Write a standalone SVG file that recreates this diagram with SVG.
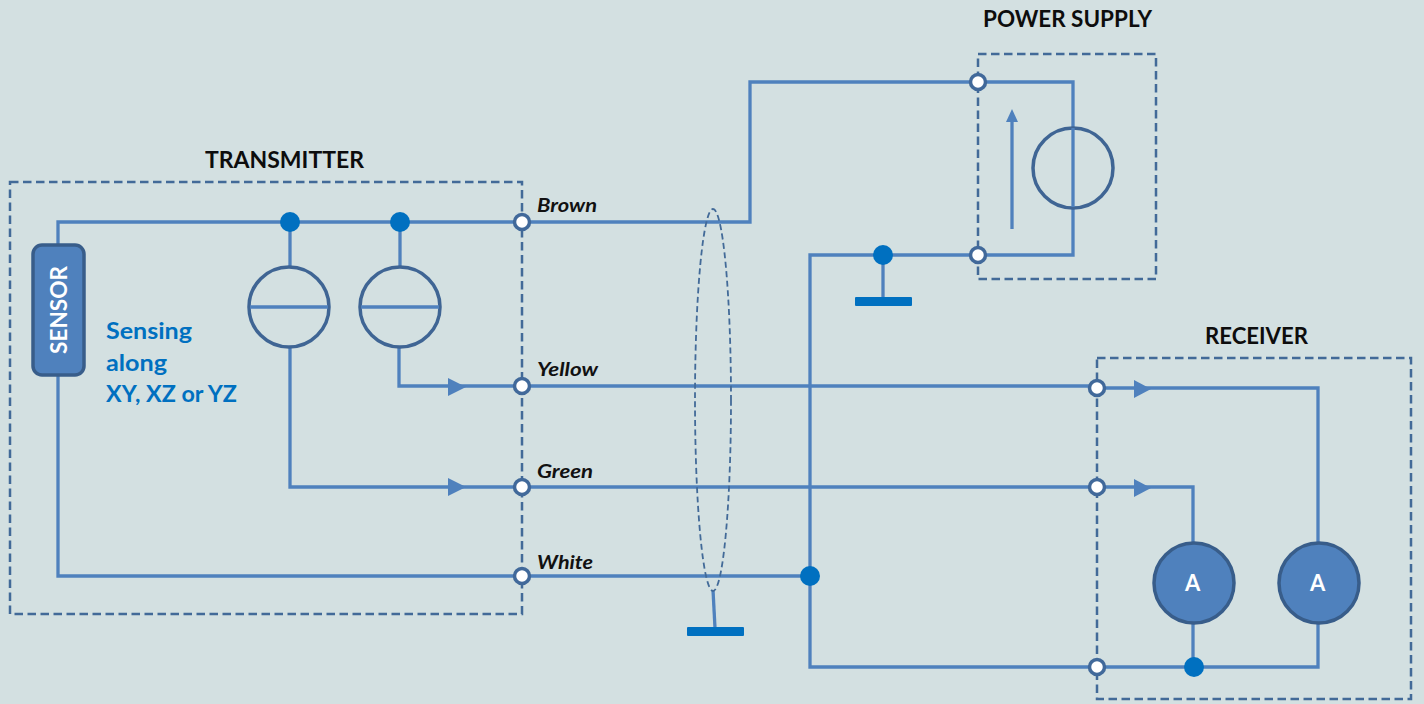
<svg xmlns="http://www.w3.org/2000/svg" width="1424" height="704" viewBox="0 0 1424 704">
<defs>
<style>
.wire{fill:none;stroke:#4f81bd;stroke-width:3.3;stroke-linejoin:miter}
.box{fill:none;stroke:#426a98;stroke-width:2.5;stroke-dasharray:8.5 4.5}
.sym{fill:none;stroke:#3f6594;stroke-width:3.5}
.amp{fill:#4f81bd;stroke:#385d8a;stroke-width:3.5}
.term{fill:#fff;stroke:#41699a;stroke-width:3.5}
.dot{fill:#0070c0}
.arr{fill:#4f81bd}
.gnd{fill:#0070c0}
.title{font:700 22px Lato,"Liberation Sans",sans-serif;fill:#0d0d0d}
.wl{font:italic 700 19px Lato,"Liberation Sans",sans-serif;fill:#111}
.blue{font:700 22px Lato,"Liberation Sans",sans-serif;fill:#0070c0}
.white{font:700 22px Lato,"Liberation Sans",sans-serif;fill:#fff}
</style>
</defs>
<rect width="1424" height="704" fill="#d3e0e1"/>
<g id="connectors">
<path class="wire" d="M58 246V222H522"/>
<path class="wire" d="M58 375V576H810"/>
<path class="wire" d="M290 222V267"/>
<path class="wire" d="M400 222V267"/>
<path class="wire" d="M290 347V487H1097"/>
<path class="wire" d="M399 347V386H1097"/>
<path class="wire" d="M522 222H750V82H978"/>
<path class="wire" d="M978 82H1073V127"/>
<path class="wire" d="M1073 207V255H978"/>
<path class="wire" d="M978 255H810V667H1097"/>
<path class="wire" d="M1097 388H1318V543"/>
<path class="wire" d="M1097 487H1193V543"/>
<path class="wire" d="M1193 623V667"/>
<path class="wire" d="M1318 623V667H1097"/>
<path class="wire" d="M883 255V298"/>
<path class="wire" d="M713 590L715 628"/>
<path class="wire" d="M1012 229V118"/>
<path class="arr" d="M1012 109L1018 122H1006Z"/>
<path class="arr" d="M448 378L466 387L448 396Z"/>
<path class="arr" d="M448 478L466 487L448 496Z"/>
<path class="arr" d="M1134 380L1151 389L1134 398Z"/>
<path class="arr" d="M1134 479L1151 488L1134 497Z"/>
<ellipse cx="713" cy="400" rx="18" ry="191" fill="none" stroke="#426a98" stroke-width="1.8" stroke-dasharray="6 3.5"/>
</g>
<g id="transmitter"><rect class="box" x="10" y="182" width="512" height="432"/>
<text class="title" x="205" y="168" textLength="159" lengthAdjust="spacingAndGlyphs">TRANSMITTER</text></g>
<g id="power-supply"><rect class="box" x="978" y="54" width="178" height="225"/>
<text class="title" x="983" y="27" textLength="169" lengthAdjust="spacingAndGlyphs">POWER SUPPLY</text></g>
<g id="receiver"><rect class="box" x="1097" y="358" width="314" height="341"/>
<text class="title" x="1205" y="344" textLength="103" lengthAdjust="spacingAndGlyphs">RECEIVER</text></g>
<g id="sensor"><rect x="33" y="245" width="51" height="130" rx="9" class="amp"/>
<text class="white" transform="translate(67 354) rotate(-90)" textLength="88" lengthAdjust="spacingAndGlyphs">SENSOR</text></g>
<g id="sensing-note">
<text class="blue" x="106" y="339" textLength="86" lengthAdjust="spacingAndGlyphs">Sensing</text>
<text class="blue" x="106" y="371" textLength="61" lengthAdjust="spacingAndGlyphs">along</text>
<text class="blue" x="106" y="402" textLength="131" lengthAdjust="spacingAndGlyphs">XY, XZ or YZ</text></g>
<g id="source-1"><circle class="sym" cx="289" cy="307" r="40"/><path class="wire" d="M250 307H328"/></g>
<g id="source-2"><circle class="sym" cx="400" cy="307" r="40"/><path class="wire" d="M361 307H439"/></g>
<g id="source-3"><circle class="sym" cx="1073" cy="168" r="40"/><path class="wire" d="M1073 128V207"/></g>
<g id="meter-1"><circle class="amp" cx="1194" cy="583" r="40"/><text class="white" x="1185" y="591">A</text></g>
<g id="meter-2"><circle class="amp" cx="1319" cy="583" r="40"/><text class="white" x="1310" y="591">A</text></g>
<g id="ground-1"><rect class="gnd" x="855" y="297" width="57" height="9" rx="1"/></g>
<g id="ground-2"><rect class="gnd" x="687" y="627" width="57" height="9" rx="1"/></g>
<g id="junctions">
<circle class="dot" cx="290" cy="222" r="10"/><circle class="dot" cx="400" cy="222" r="10"/>
<circle class="dot" cx="883" cy="255" r="10"/><circle class="dot" cx="810" cy="576" r="10"/><circle class="dot" cx="1194" cy="667" r="10"/>
</g>
<g id="terminals">
<circle class="term" cx="522" cy="222" r="7.5"/><circle class="term" cx="522" cy="386" r="7.5"/>
<circle class="term" cx="522" cy="487" r="7.5"/><circle class="term" cx="522" cy="576" r="7.5"/>
<circle class="term" cx="978" cy="82" r="7.5"/><circle class="term" cx="978" cy="255" r="7.5"/>
<circle class="term" cx="1097" cy="388" r="7.5"/><circle class="term" cx="1097" cy="487" r="7.5"/><circle class="term" cx="1097" cy="667" r="7.5"/>
</g>
<g id="wire-labels">
<text class="wl" x="537" y="212" textLength="60" lengthAdjust="spacingAndGlyphs">Brown</text>
<text class="wl" x="537" y="376" textLength="61" lengthAdjust="spacingAndGlyphs">Yellow</text>
<text class="wl" x="537" y="478" textLength="56" lengthAdjust="spacingAndGlyphs">Green</text>
<text class="wl" x="537" y="569" textLength="56" lengthAdjust="spacingAndGlyphs">White</text>
</g>
</svg>
